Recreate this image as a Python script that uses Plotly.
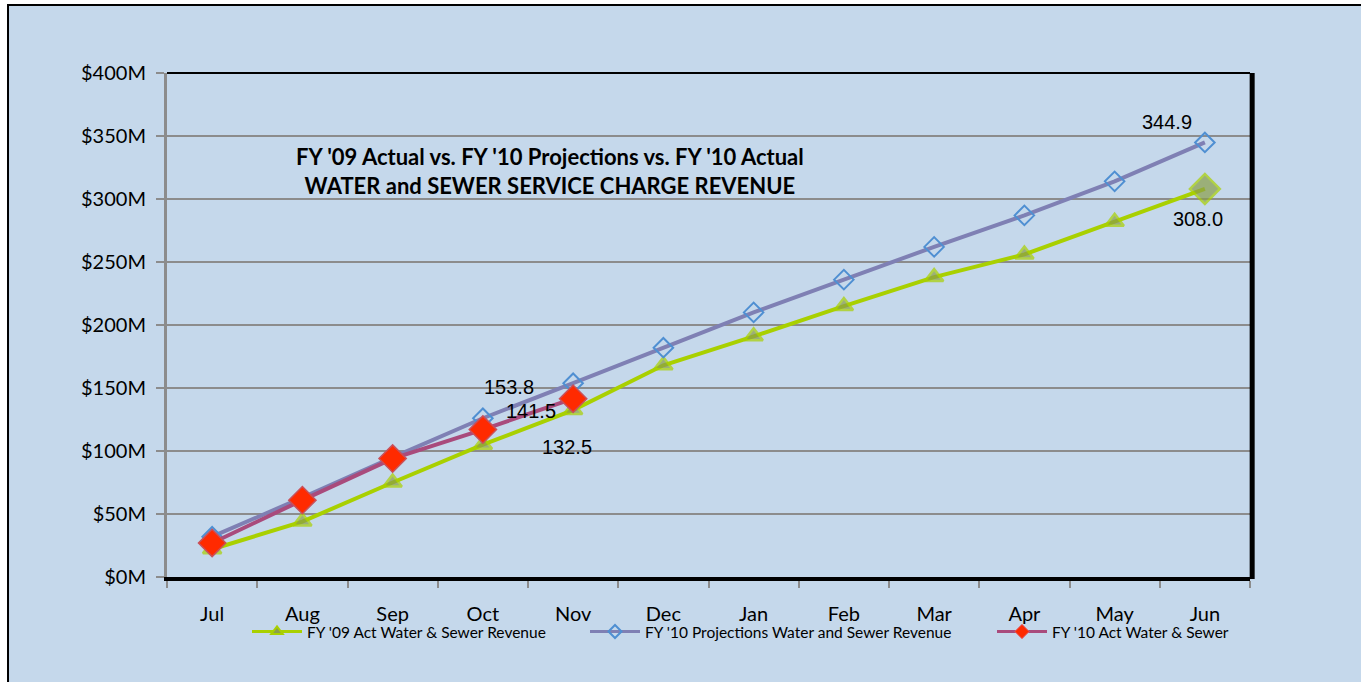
import plotly.graph_objects as go

# Monthly cumulative revenue, $ millions
months = ["Jul", "Aug", "Sep", "Oct", "Nov", "Dec", "Jan", "Feb", "Mar", "Apr", "May", "Jun"]
fy09_actual = [22, 44, 75, 105, 132.5, 168, 191, 215, 238, 256, 282, 308.0]
fy10_projection = [32, 63, 95, 126, 153.8, 182, 210, 236, 262, 287, 314, 344.9]
fy10_actual = [27, 61, 94, 117, 141.5]

y_ticks = [0, 50, 100, 150, 200, 250, 300, 350, 400]
y_labels = ["$%dM" % v for v in y_ticks]

series_names = ["FY '09 Act Water & Sewer Revenue",
                "FY '10 Projections Water and Sewer Revenue",
                "FY '10 Act Water & Sewer"]

FONT = "Lato"
BG = "#C5D8EB"
GREEN, OLIVE = "#A9D000", "#8A9E4A"
SLATE, BLUE = "#7F80B4", "#4F8FD2"
MAROON, RED = "#A94B7C", "#FF2A00"

fig = go.Figure()

# FY '09 actual - green line, olive triangles, last point is a diamond
sym09 = ["triangle-up"] * (len(months) - 1) + ["diamond"]
size09 = [16] * (len(months) - 1) + [23]
fig.add_trace(go.Scatter(
    x=months, y=fy09_actual, name=series_names[0], mode="lines+markers",
    line=dict(color=GREEN, width=4), showlegend=False,
    marker=dict(symbol=sym09, size=size09, color=OLIVE,
                line=dict(color=GREEN, width=2.5)),
))

# FY '10 projections - slate line, open blue diamonds
fig.add_trace(go.Scatter(
    x=months, y=fy10_projection, name=series_names[1], mode="lines+markers",
    line=dict(color=SLATE, width=4), showlegend=False,
    marker=dict(symbol="diamond-open", size=15,
                line=dict(color=BLUE, width=2), color=BLUE),
))

# FY '10 actual - maroon line, red diamonds
fig.add_trace(go.Scatter(
    x=months[:len(fy10_actual)], y=fy10_actual, name=series_names[2],
    mode="lines+markers",
    line=dict(color=MAROON, width=4), showlegend=False,
    marker=dict(symbol="diamond", size=21, color=RED,
                line=dict(color="#C8505A", width=1.5)),
))

# legend entries with small symbols, each in its own legend box
legend_styles = [
    (GREEN, dict(symbol="triangle-up", size=10, color=OLIVE, line=dict(color=GREEN, width=2))),
    (SLATE, dict(symbol="diamond-open", size=10, color=BLUE, line=dict(color=BLUE, width=2))),
    (MAROON, dict(symbol="diamond", size=11, color=RED, line=dict(color="#E0606A", width=1))),
]
legend_ids = ["legend", "legend2", "legend3"]
for name, (lc, mk), lid in zip(series_names, legend_styles, legend_ids):
    fig.add_trace(go.Scatter(x=[None], y=[None], name=name, mode="lines+markers",
                             line=dict(color=lc, width=3), marker=mk, legend=lid))

# value labels (point, offset in px)
labels = [
    (months[-1], fy10_projection[-1], -38, 20),
    (months[-1], fy09_actual[-1], -7, -30),
    (months[4], fy10_projection[4], -64, -4),
    (months[4], fy10_actual[4], -42, -12),
    (months[4], fy09_actual[4], -6, -37),
]
for mx, val, dx, dy in labels:
    fig.add_annotation(x=mx, y=val, xref="x", yref="y", text="%.1f" % val,
                       showarrow=False, xshift=dx, yshift=dy,
                       font=dict(family="Liberation Sans", size=20, color="black"))

# chart title inside plot area
fig.add_annotation(
    x=0.354, y=0.806, xref="paper", yref="paper", showarrow=False,
    xanchor="center", yanchor="middle",
    text="<b>FY '09 Actual vs. FY '10 Projections vs. FY '10 Actual<br>"
         "WATER and SEWER SERVICE CHARGE REVENUE</b>",
    font=dict(family=FONT, size=22, color="black"), align="center",
)

# outer blue panel with black frame, plot shadow edges
fig.add_shape(type="rect", xref="paper", yref="paper",
              x0=-0.1468, x1=1.3, y0=-0.4, y1=1.135,
              fillcolor=BG, line=dict(color="black", width=2), layer="below")
fig.add_shape(type="line", xref="paper", yref="paper",
              x0=0, x1=1.0, y0=1.0, y1=1.0,
              line=dict(color="black", width=2))
fig.add_shape(type="line", xref="paper", yref="paper",
              x0=1.002, x1=1.002, y0=-0.004, y1=1.0,
              line=dict(color="black", width=5))

legend_common = dict(orientation="h", y=-0.109, xanchor="left", yanchor="middle",
                     bgcolor="rgba(0,0,0,0)", font=dict(family=FONT, size=15.5),
                     itemwidth=50)

fig.update_layout(
    width=1361, height=682,
    margin=dict(l=167, r=111, t=73, b=105),
    paper_bgcolor="white", plot_bgcolor="white",
    font=dict(family=FONT, size=18, color="black"),
    showlegend=True,
    legend=dict(x=(247 - 167) / 1083, **legend_common),
    legend2=dict(x=(585 - 167) / 1083, **legend_common),
    legend3=dict(x=(992 - 167) / 1083, **legend_common),
    xaxis=dict(
        type="category", range=[-0.5, 11.5], tickson="boundaries",
        showgrid=False, showline=True, linecolor="black", linewidth=4,
        ticks="outside", ticklen=7, tickcolor="#8C8C8C", tickwidth=2,
        ticklabelstandoff=16, tickfont=dict(size=20), fixedrange=True,
    ),
    yaxis=dict(
        range=[0, 400], tickvals=y_ticks, ticktext=y_labels,
        showgrid=True, gridcolor="#8C8C8C", gridwidth=2,
        showline=True, linecolor="#8C8C8C", linewidth=3,
        ticks="outside", ticklen=8, tickcolor="#8C8C8C", tickwidth=2,
        ticklabelstandoff=6, tickfont=dict(size=20), zeroline=False,
    ),
)

fig.write_html("out.html", config={"displayModeBar": False},
               post_script="document.body.style.margin='0';")
